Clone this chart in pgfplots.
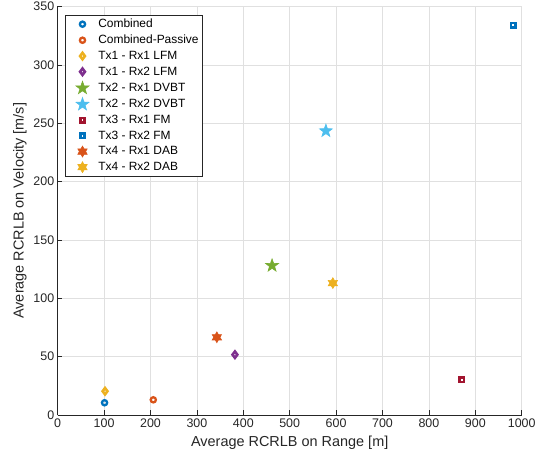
\documentclass[border=0pt]{standalone}
\usepackage{fontspec}
\setmainfont{Liberation Sans}
\usepackage{pgfplots}
\pgfplotsset{compat=1.18}
\definecolor{mblue}{HTML}{0072BD}
\definecolor{morange}{HTML}{D95319}
\definecolor{myellow}{HTML}{EDB120}
\definecolor{mpurple}{HTML}{7E2F8E}
\definecolor{mgreen}{HTML}{77AC30}
\definecolor{mcyan}{HTML}{4DBEEE}
\definecolor{mred}{HTML}{A2142F}
\definecolor{axgray}{HTML}{262626}
\pgfplotsset{
  widemark/.style={legend image code/.code={\path (0bp,0bp) (29bp,0bp);\draw[##1, draw=none] plot coordinates {(14.5bp,0bp)};}},
  pt/.style={draw=none, mark options={draw=#1, fill=#1, solid}, widemark},
}
\pgfdeclareplotmark{pentastar}{%
 \pgfpathmoveto{\pgfpointpolar{90}{\pgfplotmarksize}}%
 \pgfpathlineto{\pgfpointpolar{126}{0.40\pgfplotmarksize}}%
 \pgfpathlineto{\pgfpointpolar{162}{\pgfplotmarksize}}%
 \pgfpathlineto{\pgfpointpolar{198}{0.40\pgfplotmarksize}}%
 \pgfpathlineto{\pgfpointpolar{234}{\pgfplotmarksize}}%
 \pgfpathlineto{\pgfpointpolar{270}{0.40\pgfplotmarksize}}%
 \pgfpathlineto{\pgfpointpolar{306}{\pgfplotmarksize}}%
 \pgfpathlineto{\pgfpointpolar{342}{0.40\pgfplotmarksize}}%
 \pgfpathlineto{\pgfpointpolar{18}{\pgfplotmarksize}}%
 \pgfpathlineto{\pgfpointpolar{54}{0.40\pgfplotmarksize}}%
 \pgfpathclose\pgfusepathqfillstroke}
\pgfdeclareplotmark{hexastar}{%
 \pgfpathmoveto{\pgfpointpolar{90}{\pgfplotmarksize}}%
 \pgfpathlineto{\pgfpointpolar{120}{0.577\pgfplotmarksize}}%
 \pgfpathlineto{\pgfpointpolar{150}{\pgfplotmarksize}}%
 \pgfpathlineto{\pgfpointpolar{180}{0.577\pgfplotmarksize}}%
 \pgfpathlineto{\pgfpointpolar{210}{\pgfplotmarksize}}%
 \pgfpathlineto{\pgfpointpolar{240}{0.577\pgfplotmarksize}}%
 \pgfpathlineto{\pgfpointpolar{270}{\pgfplotmarksize}}%
 \pgfpathlineto{\pgfpointpolar{300}{0.577\pgfplotmarksize}}%
 \pgfpathlineto{\pgfpointpolar{330}{\pgfplotmarksize}}%
 \pgfpathlineto{\pgfpointpolar{0}{0.577\pgfplotmarksize}}%
 \pgfpathlineto{\pgfpointpolar{30}{\pgfplotmarksize}}%
 \pgfpathlineto{\pgfpointpolar{60}{0.577\pgfplotmarksize}}%
 \pgfpathclose\pgfusepathqfillstroke}
\begin{document}
\begin{tikzpicture}
\begin{axis}[
  scale only axis, width=464bp, height=408.5bp,
  xmin=0, xmax=1000, ymin=0, ymax=350,
  xtick={0,100,...,1000}, ytick={0,50,...,350},
  axis x line=bottom, axis y line=left,
  axis line style={-, draw=axgray, line width=0.6bp},
  tick align=inside, major tick length=4.5bp,
  tick style={draw=axgray, line width=0.6bp},
  grid=major, major grid style={draw=black!12, line width=0.6bp},
  ticklabel style={font=\fontsize{12.5}{14}\selectfont, text=axgray},
  /pgf/number format/assume math mode=true,
  /pgf/number format/set thousands separator={},
  xlabel={Average RCRLB on Range [m]},
  ylabel={Average RCRLB on Velocity [m/s]},
  label style={font=\fontsize{14.5}{16}\selectfont, text=axgray},
  xlabel style={yshift=-2bp},
  ylabel style={yshift=0bp},
  legend style={at={(axis description cs:0,1)}, anchor=north west,
    xshift=7.5bp, yshift=-8.5bp, draw=axgray, line width=0.6bp,
    font=\fontsize{12}{13}\selectfont, row sep=3.3bp, inner sep=2.5bp,
    nodes={inner sep=1.3bp}},
  legend cell align=left,
]
\coordinate (SW) at (rel axis cs:0,0);
\coordinate (NE) at (rel axis cs:1,1);
\addplot[pt=mblue, mark=o, mark size=2.6bp, line width=2.3bp] coordinates {(101,10.5)};
\addlegendentry{Combined}
\addplot[pt=morange, mark=o, mark size=2.6bp, line width=2.3bp] coordinates {(206,13)};
\addlegendentry{Combined-Passive}
\addplot[pt=myellow, mark=diamond, mark size=3.2bp, line width=2.6bp] coordinates {(102,20.4)};
\addlegendentry{Tx1 - Rx1 LFM}
\addplot[pt=mpurple, mark=diamond, mark size=3.2bp, line width=2.6bp] coordinates {(382,51.7)};
\addlegendentry{Tx1 - Rx2 LFM}
\addplot[pt=mgreen, mark=pentastar, mark size=6.8bp, line width=0.6bp] coordinates {(462,128)};
\addlegendentry{Tx2 - Rx1 DVBT}
\addplot[pt=mcyan, mark=pentastar, mark size=6.8bp, line width=0.6bp] coordinates {(578,243.4)};
\addlegendentry{Tx2 - Rx2 DVBT}
\addplot[pt=mred, mark=square, mark size=2.2bp, line width=2.6bp] coordinates {(871,30.3)};
\addlegendentry{Tx3 - Rx1 FM}
\addplot[pt=mblue, mark=square, mark size=2.2bp, line width=2.6bp] coordinates {(982,334)};
\addlegendentry{Tx3 - Rx2 FM}
\addplot[pt=morange, mark=hexastar, mark size=5.4bp, line width=0.6bp] coordinates {(343,66.6)};
\addlegendentry{Tx4 - Rx1 DAB}
\addplot[pt=myellow, mark=hexastar, mark size=5.4bp, line width=0.6bp] coordinates {(593,113)};
\addlegendentry{Tx4 - Rx2 DAB}
\end{axis}
\pgfresetboundingbox
\path ([shift={(-57.7bp,-44bp)}]SW) rectangle ([shift={(23.3bp,6.5bp)}]NE);
\end{tikzpicture}
\end{document}
